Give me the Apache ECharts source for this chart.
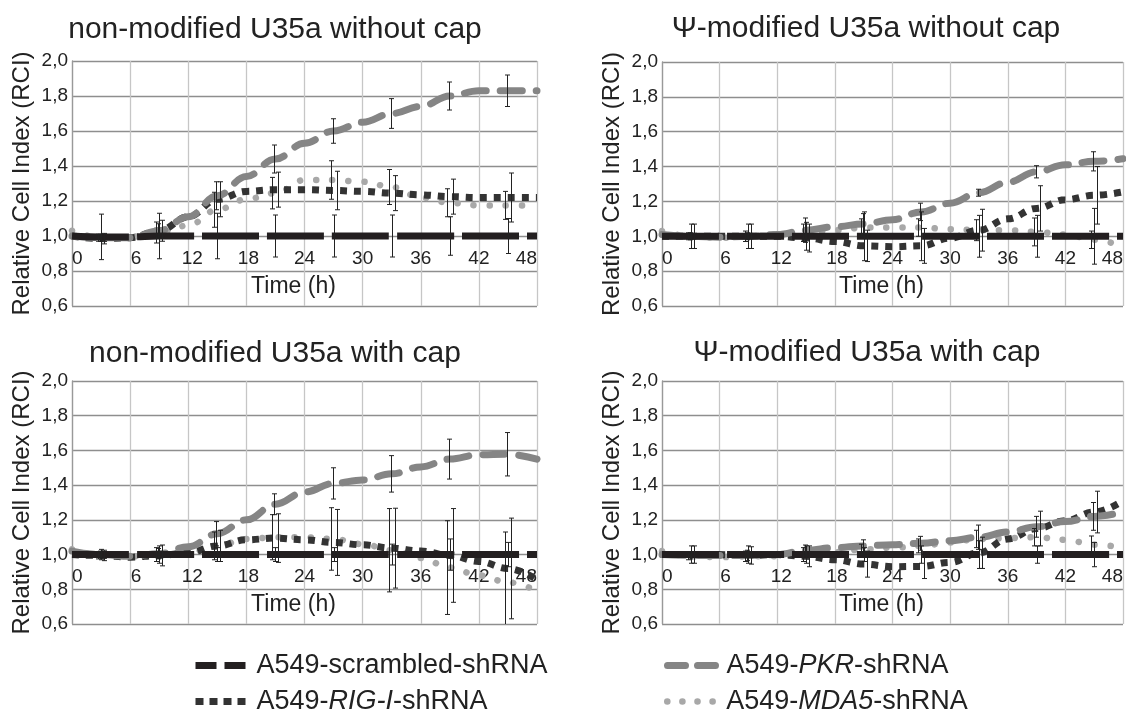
<!DOCTYPE html>
<html>
<head>
<meta charset="utf-8">
<script src="https://cdn.jsdelivr.net/npm/echarts@6/dist/echarts.min.js"></script>
<style>
html,body{margin:0;padding:0;background:#fff;}
#c{width:1126px;height:715px;}
</style>
</head>
<body>
<div id="c"></div>
<script>
// ---------- data ----------
const times = [0,3,6,9,12,15,18,21,24,27,30,33,36,39,42,45,48];
const errTimes = [3,9,15,21,27,33,39,45];
const xTicks = [0,6,12,18,24,30,36,42,48];
const yTicks = [0.6,0.8,1.0,1.2,1.4,1.6,1.8,2.0];

const panelTitles = [
  'non-modified U35a without cap',
  'Ψ-modified U35a without cap',
  'non-modified U35a with cap',
  'Ψ-modified U35a with cap'
];
const seriesNames = ['A549-scrambled-shRNA','A549-PKR-shRNA','A549-RIG-I-shRNA','A549-MDA5-shRNA'];

// panel 1: non-modified without cap
const p1Scr = [1.00,0.995,0.995,1.00,1.00,1.00,1.00,1.00,1.00,1.00,1.00,1.00,1.00,1.00,1.00,1.00,1.00];
const p1PKR = [1.00,0.99,0.99,1.03,1.11,1.23,1.34,1.44,1.53,1.60,1.65,1.70,1.74,1.80,1.83,1.83,1.83];
const p1RIG = [1.00,0.985,0.99,1.03,1.11,1.21,1.255,1.265,1.265,1.26,1.255,1.245,1.235,1.225,1.22,1.22,1.22];
const p1MDA = [1.03,0.99,0.995,1.02,1.06,1.15,1.21,1.245,1.32,1.32,1.31,1.28,1.22,1.19,1.175,1.175,1.175];
const p1ScrErr = [0.13,0.13,0.13,0.12,0.12,0.12,0.11,0.10];
const p1PKRErr = [0.02,0.04,0.08,0.08,0.07,0.085,0.08,0.09];
const p1RIGErr = [0.03,0.06,0.10,0.10,0.11,0.10,0.10,0.14];
const p1MDAErr = [0.02,0.06,0.10,0.09,0.11,0.10,0.08,0.08];

// panel 2: Psi-modified without cap
const p2Scr = [1.00,1.00,1.00,1.00,1.00,1.00,1.00,1.00,1.00,1.00,1.00,1.00,1.00,1.00,1.00,1.00,1.00];
const p2PKR = [1.01,1.00,0.995,1.00,1.01,1.035,1.055,1.07,1.095,1.14,1.19,1.25,1.31,1.37,1.41,1.43,1.445];
const p2RIG = [1.00,1.00,1.00,1.00,1.00,0.99,0.97,0.945,0.94,0.945,0.99,1.035,1.10,1.16,1.21,1.235,1.255];
const p2MDA = [1.03,1.00,0.99,1.00,1.01,1.02,1.035,1.05,1.05,1.05,1.04,1.035,1.035,1.025,1.01,0.98,0.94];
const p2ScrErr = [0.07,0.07,0.08,0.14,0.14,0.12,0.12,0.16];
const p2PKRErr = [0.02,0.02,0.07,0.06,0.05,0.02,0.035,0.055];
const p2RIGErr = [0.07,0.07,0.08,0.09,0.10,0.12,0.13,0.165];
const p2MDAErr = [0.02,0.03,0.05,0.05,0.05,0.06,0.08,0.05];

// panel 3: non-modified with cap
const p3Scr = [1.00,1.00,1.00,1.00,1.00,1.00,1.00,1.00,1.00,1.00,1.00,1.00,1.00,1.00,1.00,1.00,1.00];
const p3PKR = [1.02,1.00,0.99,1.005,1.045,1.12,1.20,1.29,1.36,1.41,1.43,1.465,1.505,1.55,1.575,1.578,1.55];
const p3RIG = [1.00,0.995,0.985,0.995,1.01,1.05,1.085,1.095,1.085,1.07,1.056,1.037,1.02,0.995,0.96,0.92,0.855];
const p3MDA = [1.03,0.995,0.99,1.00,1.01,1.05,1.09,1.10,1.10,1.09,1.06,1.025,0.98,0.925,0.88,0.84,0.79];
const p3ScrErr = [0.03,0.05,0.04,0.04,0.04,0.06,0.09,0.07];
const p3PKRErr = [0.02,0.03,0.07,0.06,0.09,0.105,0.115,0.125];
const p3RIGErr = [0.03,0.06,0.09,0.14,0.19,0.23,0.27,0.29];
const p3MDAErr = [0.02,0.04,0.08,0.13,0.18,0.24,0.27,0.29];

// panel 4: Psi-modified with cap
const p4Scr = [1.00,1.00,1.00,1.00,1.00,1.00,1.00,1.00,1.00,1.00,1.00,1.00,1.00,1.00,1.00,1.00,1.00];
const p4PKR = [1.00,0.995,0.995,0.995,1.00,1.025,1.04,1.05,1.057,1.065,1.08,1.10,1.13,1.16,1.19,1.22,1.245];
const p4RIG = [1.00,1.00,1.00,0.995,1.00,0.99,0.97,0.945,0.93,0.932,0.955,1.01,1.09,1.15,1.195,1.245,1.31];
const p4MDA = [1.02,0.99,0.985,0.99,0.99,1.00,1.015,1.03,1.04,1.05,1.07,1.09,1.095,1.10,1.085,1.057,1.04];
const p4ScrErr = [0.05,0.05,0.05,0.04,0.05,0.08,0.05,0.07];
const p4PKRErr = [0.02,0.03,0.03,0.035,0.04,0.07,0.06,0.08];
const p4RIGErr = [0.05,0.05,0.06,0.075,0.07,0.09,0.10,0.12];
const p4MDAErr = [0.02,0.03,0.04,0.03,0.04,0.05,0.05,0.05];

// ---------- build ----------
const panels = [
  {vals:[p1Scr,p1PKR,p1RIG,p1MDA], errs:[p1ScrErr,p1PKRErr,p1RIGErr,p1MDAErr]},
  {vals:[p2Scr,p2PKR,p2RIG,p2MDA], errs:[p2ScrErr,p2PKRErr,p2RIGErr,p2MDAErr]},
  {vals:[p3Scr,p3PKR,p3RIG,p3MDA], errs:[p3ScrErr,p3PKRErr,p3RIGErr,p3MDAErr]},
  {vals:[p4Scr,p4PKR,p4RIG,p4MDA], errs:[p4ScrErr,p4PKRErr,p4RIGErr,p4MDAErr]}
];

const FONT = 'Liberation Sans, Arial, sans-serif';
const TXT = '#222';

const grids = [
  {left:72, top:61, width:465, height:245},
  {left:662, top:62, width:466, height:244},
  {left:72, top:381, width:465, height:243},
  {left:662, top:381, width:466, height:243}
];
const titlePos = [
  {x:275, y:15}, {x:866, y:14}, {x:275, y:339}, {x:867, y:338}
];

const lineStyles = [
  {color:'#231f20', width:7, type:[57,8], cap:'butt'},
  {color:'#858585', width:7, type:[22,14], cap:'round'},
  {color:'#333333', width:7, type:[7,7], cap:'butt'},
  {color:'#a8a8a8', width:6.5, type:[0.1,16], cap:'round'}
];
const errOffsets = [0, -1, 3, -3];
const drawOrder = [3, 2, 1, 0];
// small rightward nudge of the first tick labels (px)
const xLabelNudge = {6: 6, 12: 4, 18: 2};

const xAxes = [], yAxes = [], series = [], titles = [];
grids.forEach((g, i) => {
  titles.push({
    text: panelTitles[i], left: titlePos[i].x, top: titlePos[i].y, textAlign: 'center', padding: 0,
    textStyle: {fontFamily: FONT, fontSize: 30, fontWeight: 'normal', color: TXT}
  });
  xAxes.push({
    type:'value', gridIndex:i, min:0, max:48, interval:6,
    position:'bottom', offset: -g.height/7,
    name:'Time (h)', nameLocation:'middle', nameGap:4,
    nameTextStyle:{fontFamily:FONT, fontSize:23, color:TXT, verticalAlign:'top', padding:[0,22,0,0]},
    axisLine:{show:false}, axisTick:{show:false},
    axisLabel:{inside:true, margin:3, fontFamily:FONT, fontSize:19, color:TXT,
      alignMinLabel:'left', alignMaxLabel:'right',
      formatter: v => {
        if (xTicks.indexOf(v) < 0) return '';
        const n = xLabelNudge[v];
        return n ? '{s' + n + '|' + v + '}' : String(v);
      },
      rich: {
        s6:{fontFamily:FONT, fontSize:19, color:TXT, padding:[0,0,0,12]},
        s4:{fontFamily:FONT, fontSize:19, color:TXT, padding:[0,0,0,8]},
        s2:{fontFamily:FONT, fontSize:19, color:TXT, padding:[0,0,0,4]}
      }},
    splitLine:{show:true, lineStyle:{color:'#c6c6c6', width:1.3}}
  });
  yAxes.push({
    type:'value', gridIndex:i, min:0.6, max:2.0, interval:0.2,
    name:'Relative Cell Index (RCI)', nameLocation:'middle', nameGap:38,
    nameTextStyle:{fontFamily:FONT, fontSize:24, color:TXT},
    axisLine:{show:true, lineStyle:{color:'#999', width:1.3}}, axisTick:{show:false},
    axisLabel:{margin:4, fontFamily:FONT, fontSize:19, color:TXT,
      formatter: v => {
        const t = yTicks.find(k => Math.abs(k - v) < 1e-6);
        return t === undefined ? '' : t.toFixed(1).replace('.', ',');
      }},
    splitLine:{show:true, lineStyle:{color:'#8e8e8e', width:1.3}}
  });
  const p = panels[i];
  drawOrder.forEach((s, k) => {
    series.push({
      type:'line', name: seriesNames[s], xAxisIndex:i, yAxisIndex:i,
      data: times.map((t, j) => [t, p.vals[s][j]]),
      smooth: 0.4, smoothMonotone: 'x', symbol:'none', z: 2 + k,
      lineStyle: lineStyles[s], itemStyle:{color: lineStyles[s].color},
      silent:true, animation:false
    });
  });
  [0,1,2,3].forEach(s => {
    const data = errTimes.map((t, j) => {
      const v = p.vals[s][times.indexOf(t)];
      const e = p.errs[s][j];
      return [t, v - e, v + e];
    });
    const off = errOffsets[s];
    series.push({
      type:'custom', name:'err'+i+'_'+s, xAxisIndex:i, yAxisIndex:i, z:10, clip:true,
      silent:true, animation:false,
      data: data,
      renderItem: function(params, api) {
        const x = api.value(0);
        const pLo = api.coord([x, api.value(1)]);
        const pHi = api.coord([x, api.value(2)]);
        const px = Math.round(pLo[0] + off) + 0.5;
        const cap = 2.5;
        const st = {stroke:'#222', lineWidth:1};
        return {type:'group', children:[
          {type:'line', shape:{x1:px, y1:pHi[1], x2:px, y2:pLo[1]}, style:st},
          {type:'line', shape:{x1:px-cap, y1:pHi[1], x2:px+cap, y2:pHi[1]}, style:st},
          {type:'line', shape:{x1:px-cap, y1:pLo[1], x2:px+cap, y2:pLo[1]}, style:st}
        ]};
      }
    });
  });
});

const LFS = 27;
const richText = {
  n:{fontFamily:FONT, fontSize:LFS, color:TXT},
  i:{fontFamily:FONT, fontSize:LFS, color:TXT, fontStyle:'italic'}
};
const legendFmt = name => {
  if (name === 'A549-PKR-shRNA') return '{n|A549-}{i|PKR}{n|-shRNA}';
  if (name === 'A549-RIG-I-shRNA') return '{n|A549-}{i|RIG-I}{n|-shRNA}';
  if (name === 'A549-MDA5-shRNA') return '{n|A549-}{i|MDA5}{n|-shRNA}';
  return '{n|' + name + '}';
};
const legendIcon = [
  {lineStyle:{color:'#231f20', width:7, type:[21,8], cap:'butt'}, w:50},
  {lineStyle:{color:'#858585', width:7, type:[18,12], cap:'round'}, w:48},
  {lineStyle:{color:'#333333', width:7, type:[8,6], cap:'butt'}, w:50},
  {lineStyle:{color:'#a8a8a8', width:6.5, type:[0.1,15], cap:'round'}, w:48}
];
const legendPos = [
  {left:192, top:652}, {left:664, top:652}, {left:192, top:688}, {left:664, top:688}
];
const legends = [0,1,2,3].map(s => ({
  left: legendPos[s].left, top: legendPos[s].top, orient:'horizontal', padding:0,
  selectedMode:false, itemWidth: legendIcon[s].w, itemHeight: 14, itemGap: 0,
  data:[{name: seriesNames[s],
         lineStyle: legendIcon[s].lineStyle, itemStyle:{color: legendIcon[s].lineStyle.color, opacity:0}}],
  formatter: legendFmt,
  textStyle:{fontFamily:FONT, fontSize:LFS, color:TXT, padding:[0,0,0,6], rich: richText}
}));

const chart = echarts.init(document.getElementById('c'), null, {renderer:'canvas'});
chart.setOption({
  backgroundColor:'#fff',
  animation:false,
  title: titles,
  legend: legends,
  grid: grids,
  xAxis: xAxes,
  yAxis: yAxes,
  series: series
});
</script>
</body>
</html>
